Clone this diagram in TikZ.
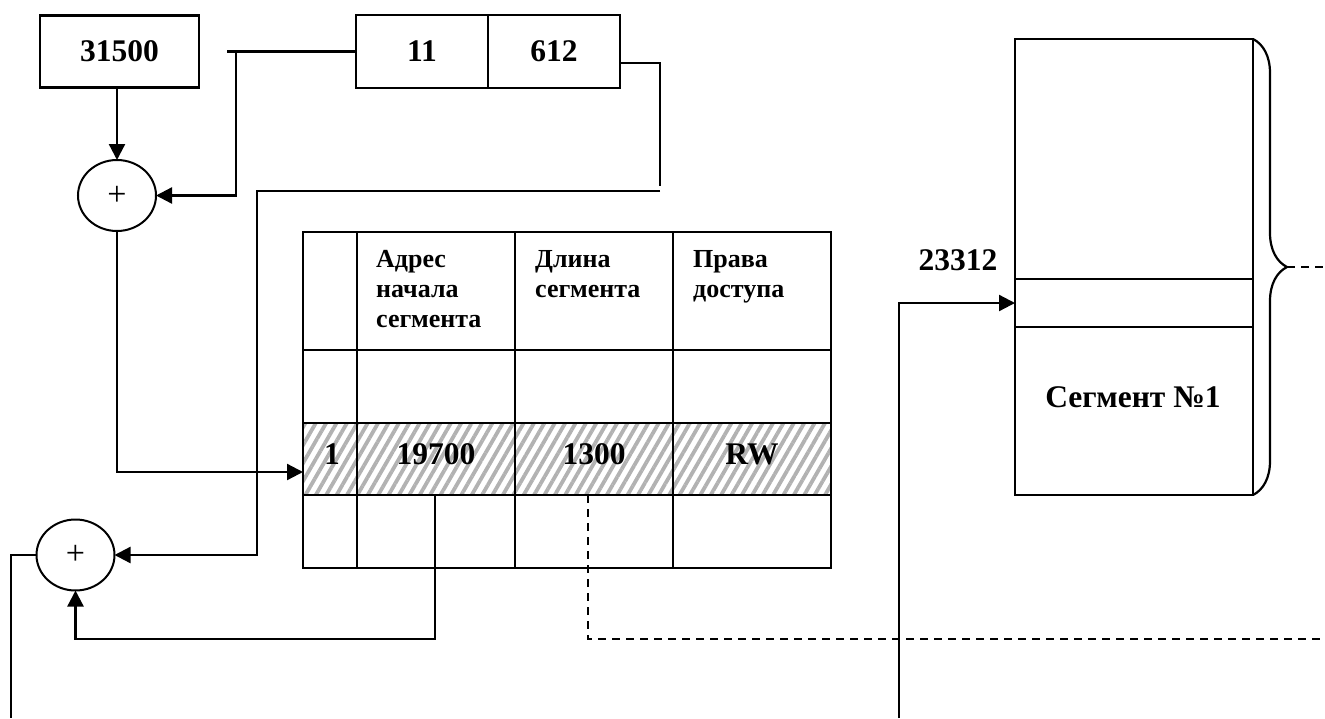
\documentclass[tikz,border=0pt]{standalone}
\usepackage{fontspec}
\setmainfont{Liberation Serif}
\usetikzlibrary{arrows.meta,shapes.geometric,patterns.meta,decorations.pathreplacing}
\begin{document}
\begin{tikzpicture}[x=1pt,y=-1pt,
  box/.style={draw, line width=2.2pt, inner sep=0pt, outer sep=0pt},
  cell/.style={draw, line width=2.8pt, inner sep=0pt, outer sep=0pt},
  sum/.style={ellipse, draw, line width=2pt, minimum width=78pt, minimum height=71pt, inner sep=0pt, outer sep=0pt, font=\fontsize{34}{34}\selectfont},
  big/.style={font=\fontsize{31.5}{36}\selectfont\bfseries},
  head/.style={font=\fontsize{26}{30}\selectfont\bfseries, align=left, inner sep=0pt, anchor=north west},
  conn/.style={line width=2.3pt},
  arr/.style={conn, -{Triangle[length=16pt,width=16pt]}},
  dashline/.style={line width=2pt, dash pattern=on 8pt off 6pt}]
\useasboundingbox (0,0) rectangle (1325,718);

% top boxes
\node[box,big,minimum width=159pt,minimum height=72pt] (n31500) at (119.5,51.5) {31500};
\node[box,big,minimum width=132pt,minimum height=73pt] (n11) at (422,51.5) {11};
\node[box,big,minimum width=132pt,minimum height=73pt] (n612) at (554,51.5) {612};

% adders
\node[sum] (s1) at (117,195.5) {+};
\node[sum] (s2) at (75.5,555) {+};

% hatched row background
\fill[pattern={Lines[angle=60,distance=9pt,line width=3.8pt]}, pattern color=gray!60] (303,423) rectangle (831,495);

% table
\foreach \r/\cy/\h in {0/291/118,1/386.5/73,2/459/72,3/531.5/73} {
  \node[cell,minimum width=54pt,minimum height=\h pt] (t\r-0) at (330,\cy) {};
  \node[cell,minimum width=158pt,minimum height=\h pt] (t\r-1) at (436,\cy) {};
  \node[cell,minimum width=158pt,minimum height=\h pt] (t\r-2) at (594,\cy) {};
  \node[cell,minimum width=158pt,minimum height=\h pt] (t\r-3) at (752,\cy) {};
}
\node[head] (h1) at (376,250) {Адрес\\начала\\сегмента};
\node[head] (h2) at (535,250) {Длина\\сегмента};
\node[head] (h3) at (693,250) {Права\\доступа};

\node[big] (v0) at (332,454) {1};
\node[big] (v1) at (436,454) {19700};
\node[big] (v2) at (594,454) {1300};
\node[big] (v3) at (752,454) {RW};

% segment in memory
\node[box, minimum width=238pt, minimum height=240pt] (segtop) at (1134,159) {};
\node[box, minimum width=238pt, minimum height=48pt] (segmid) at (1134,303) {};
\node[box, minimum width=238pt, minimum height=168pt] (segbot) at (1134,411) {};
\node[big] (seglabel) at (1133,397) {Сегмент №1};
\node[big] (addr) at (958,260) {23312};

\draw[line width=2.2pt, decorate, decoration={brace, amplitude=34pt}] (segtop.north east) -- (segbot.south east);
\coordinate (tip) at (1287,267);
\coordinate (tipend) at (1325,267);
\draw[dashline] (tip) -- (tipend);

% connectors
\draw[arr] (s1 |- n31500.south) -- (s1.north);

\coordinate (j0) at (227,51.5);
\coordinate (j1) at (236,51.5);
\draw[conn] (n11.west) -- (j0);
\draw[arr] (j1) |- (s1.east);

\coordinate (k1) at (660,63);
\coordinate (k1b) at (660,186);
\draw[conn] (n612.east |- k1) -- (k1) -- (k1b);

\coordinate (k2) at (660,191);
\coordinate (k3) at (257,191);
\draw[arr] (k2) -- (k3) |- (s2.east);

\coordinate (k4) at (303,472);
\draw[arr] (s1.south) |- (k4);

\coordinate (k5) at (435,639);
\draw[arr] (t2-1.south -| k5) -- (k5) -| (s2.south);

\coordinate (k6) at (588,639);
\coordinate (k6e) at (1325,639);
\draw[dashline] (t2-2.south -| k6) -- (k6) -- (k6e);

\coordinate (k7) at (11,718);
\draw[conn] (s2.west) -- (s2.west -| k7) -- (k7);

\coordinate (k8) at (899,718);
\draw[arr] (k8) |- (segmid.west);
\end{tikzpicture}
\end{document}
